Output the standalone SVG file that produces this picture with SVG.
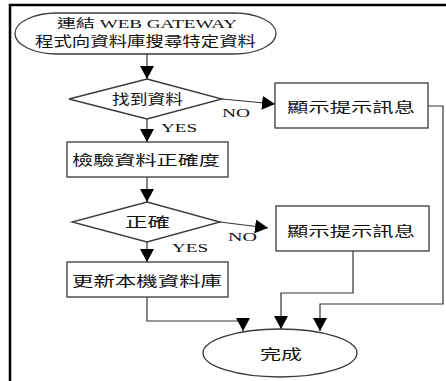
<svg xmlns="http://www.w3.org/2000/svg" width="446" height="381" viewBox="0 0 446 381">
  <style>
    .frame { fill: none; stroke: #000; stroke-width: 2.5; }
    .shape { fill: #fff; stroke: #3a3a3a; stroke-width: 1.3; }
    .line { fill: none; stroke: #333; stroke-width: 1.2; }
    .arrow { marker-end: url(#head); }
    .cjk { font-family: "Noto Sans CJK TC", "Noto Sans CJK SC", sans-serif; font-size: 14px; fill: #111; }
    .lbl { font-family: "Liberation Serif", "Noto Sans CJK TC", serif; font-size: 12px; fill: #111; }
  </style>
  <defs>
    <marker id="head" markerUnits="userSpaceOnUse" markerWidth="14" markerHeight="14" refX="13" refY="7" orient="auto">
      <path d="M0,0 L13,7 L0,14 z" fill="#000"/>
    </marker>
  </defs>

  <!-- page frame (top and left edges) -->
  <path class="frame" d="M10,381 V5 H446"/>

  <!-- connectors -->
  <g id="connectors">
    <path class="line arrow" d="M147,54 V79"/>
    <path class="line arrow" d="M147,119 V142"/>
    <path class="line arrow" d="M147,177 V202"/>
    <path class="line arrow" d="M147,242 V262"/>
    <path class="line arrow" d="M222,99 L275,104"/>
    <path class="line arrow" d="M220,222 L268,228"/>
    <path class="line arrow" d="M428,106 H443 V304 H320 V331"/>
    <path class="line arrow" d="M353,251 V293 H281 V329"/>
    <path class="line arrow" d="M147,297 V321 H243 V331"/>
    <text class="lbl" x="161" y="132" textLength="36" lengthAdjust="spacingAndGlyphs">YES</text>
    <text class="lbl" x="222" y="117" textLength="28" lengthAdjust="spacingAndGlyphs">NO</text>
    <text class="lbl" x="228" y="241" textLength="29" lengthAdjust="spacingAndGlyphs">NO</text>
    <text class="lbl" x="172" y="252" textLength="36" lengthAdjust="spacingAndGlyphs">YES</text>
  </g>

  <g id="start">
    <rect class="shape" x="15" y="13" width="261" height="41" rx="42" ry="20.5"/>
    <text class="lbl" x="57" y="28" font-size="11.5" textLength="180" lengthAdjust="spacingAndGlyphs">連結 WEB GATEWAY</text>
    <text class="cjk" x="35" y="46" font-size="12" textLength="221" lengthAdjust="spacingAndGlyphs">程式向資料庫搜尋特定資料</text>
  </g>

  <g id="found">
    <polygon class="shape" points="147,79 222,99 147,119 69,99"/>
    <text class="cjk" x="112" y="104" font-size="13.5" textLength="71" lengthAdjust="spacingAndGlyphs">找到資料</text>
  </g>

  <g id="msg1">
    <rect class="shape" x="275" y="83" width="153" height="45"/>
    <text class="cjk" x="287" y="112" textLength="128" lengthAdjust="spacingAndGlyphs">顯示提示訊息</text>
  </g>

  <g id="verify">
    <rect class="shape" x="67" y="142" width="161" height="35"/>
    <text class="cjk" x="72" y="165" font-size="15" textLength="148" lengthAdjust="spacingAndGlyphs">檢驗資料正確度</text>
  </g>

  <g id="correct">
    <polygon class="shape" points="147,202 220,222 147,242 72,222"/>
    <text class="cjk" x="125" y="227" textLength="45" lengthAdjust="spacingAndGlyphs">正確</text>
  </g>

  <g id="msg2">
    <rect class="shape" x="276" y="206" width="153" height="45"/>
    <text class="cjk" x="287" y="236" textLength="128" lengthAdjust="spacingAndGlyphs">顯示提示訊息</text>
  </g>

  <g id="update">
    <rect class="shape" x="67" y="262" width="161" height="35"/>
    <text class="cjk" x="72" y="286" font-size="15" textLength="150" lengthAdjust="spacingAndGlyphs">更新本機資料庫</text>
  </g>

  <g id="done">
    <ellipse class="shape" cx="280" cy="353" rx="77" ry="24"/>
    <text class="cjk" x="260" y="359" textLength="42" lengthAdjust="spacingAndGlyphs">完成</text>
  </g>
</svg>
